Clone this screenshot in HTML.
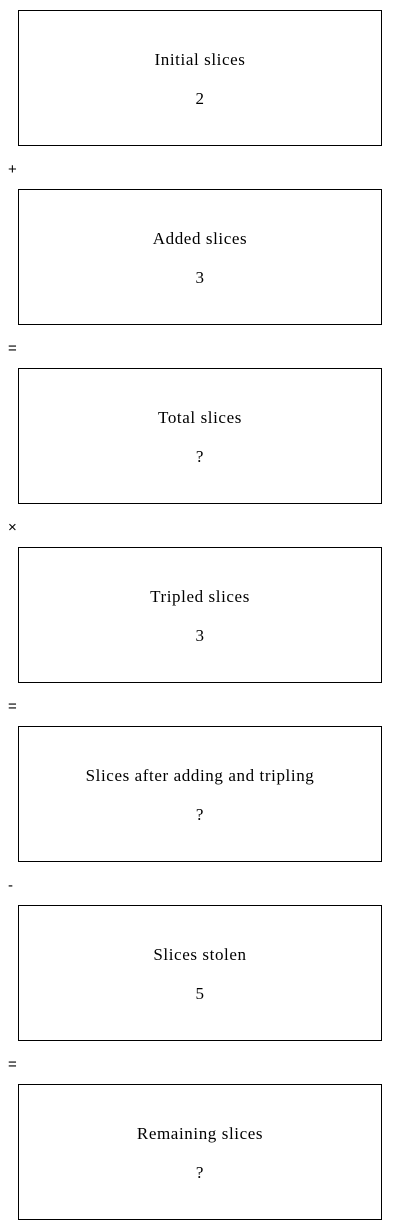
<!DOCTYPE html>
<html><head><meta charset="utf-8"><style>
html,body{margin:0;padding:0;background:#fff;width:400px;height:1230px;overflow:hidden}
.box{position:absolute;left:18px;width:362px;height:134px;border:1px solid #000;font-family:"Liberation Serif",serif;font-size:17px;letter-spacing:0.6px;color:#000;text-align:center}
.t{position:absolute;left:0;right:0;top:39px;line-height:20px}
.v{position:absolute;left:0;right:0;top:78px;line-height:20px}
.op{position:absolute;left:8px;font-family:"Liberation Sans",sans-serif;font-size:15px;line-height:18px;color:#000}
</style></head><body>
<div class="box" style="top:10px"><div class="t">Initial slices</div><div class="v">2</div></div>
<div class="op" style="top:161px">+</div>
<div class="box" style="top:189px"><div class="t">Added slices</div><div class="v">3</div></div>
<div class="op" style="top:340px">=</div>
<div class="box" style="top:368px"><div class="t">Total slices</div><div class="v">?</div></div>
<div class="op" style="top:519px">×</div>
<div class="box" style="top:547px"><div class="t">Tripled slices</div><div class="v">3</div></div>
<div class="op" style="top:698px">=</div>
<div class="box" style="top:726px"><div class="t">Slices after adding and tripling</div><div class="v">?</div></div>
<div class="op" style="top:877px">-</div>
<div class="box" style="top:905px"><div class="t">Slices stolen</div><div class="v">5</div></div>
<div class="op" style="top:1056px">=</div>
<div class="box" style="top:1084px"><div class="t">Remaining slices</div><div class="v">?</div></div>
</body></html>
